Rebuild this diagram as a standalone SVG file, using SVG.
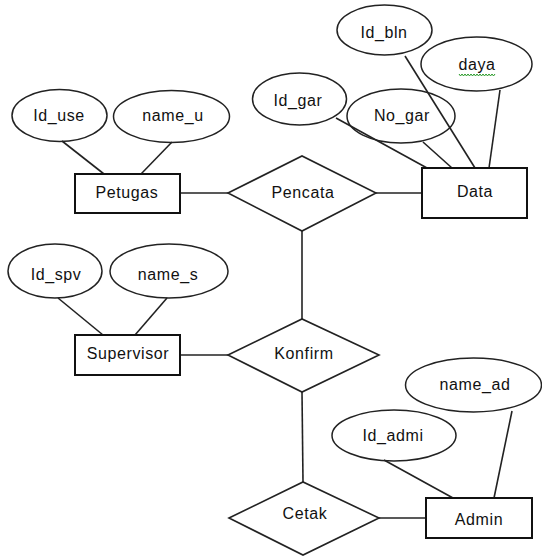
<svg xmlns="http://www.w3.org/2000/svg" width="542" height="556" viewBox="0 0 542 556">
<style>
.e{fill:none;stroke:#222;stroke-width:1.5}
.r{fill:#fff;stroke:#111;stroke-width:2}
.d{fill:#fff;stroke:#222;stroke-width:1.6}
.c line{stroke:#222;stroke-width:1.6}
text{font-family:"Liberation Sans",Arial,sans-serif;font-size:16px;fill:#111;text-anchor:middle;letter-spacing:0.6px}
</style>
<rect width="542" height="556" fill="#fff"/>
<g class="c" id="connectors">
<line x1="62" y1="141" x2="104" y2="174"/>
<line x1="172" y1="142" x2="141" y2="174"/>
<line x1="180" y1="193" x2="228" y2="193"/>
<line x1="376" y1="193" x2="422" y2="193"/>
<line x1="336" y1="118" x2="427" y2="168"/>
<line x1="423" y1="142" x2="452" y2="168"/>
<line x1="405" y1="56" x2="475" y2="168"/>
<line x1="500" y1="90" x2="489" y2="168"/>
<line x1="302" y1="231" x2="302" y2="319"/>
<line x1="58" y1="298" x2="103" y2="335"/>
<line x1="167" y1="298" x2="135" y2="335"/>
<line x1="180" y1="355" x2="228" y2="355"/>
<line x1="302" y1="392" x2="303" y2="482"/>
<line x1="379" y1="518" x2="426" y2="518"/>
<line x1="384" y1="460" x2="453" y2="498"/>
<line x1="512" y1="411" x2="494" y2="498"/>
</g>
<g id="Id_use"><ellipse class="e" cx="59.5" cy="115.5" rx="47.5" ry="26"/><text x="59" y="121">Id_use</text></g>
<g id="name_u"><ellipse class="e" cx="171.5" cy="116.5" rx="58" ry="26"/><text x="173" y="121">name_u</text></g>
<g id="Petugas"><rect class="r" x="75" y="174" width="105" height="39"/><text x="127" y="198">Petugas</text></g>
<g id="Pencata"><polygon class="d" points="228,193 302,156 376,193 302,231"/><text x="303" y="198">Pencata</text></g>
<g id="Id_bln"><ellipse class="e" cx="384.5" cy="30" rx="47.5" ry="25"/><text x="384" y="38">Id_bln</text></g>
<g id="daya"><ellipse class="e" cx="476.5" cy="64" rx="55.5" ry="27"/><text x="477" y="70">daya</text>
<path d="M459 74 l1.5 2 l1.5 -2 l1.5 2 l1.5 -2 l1.5 2 l1.5 -2 l1.5 2 l1.5 -2 l1.5 2 l1.5 -2 l1.5 2 l1.5 -2 l1.5 2 l1.5 -2 l1.5 2 l1.5 -2 l1.5 2 l1.5 -2 l1.5 2 l1.5 -2 l1.5 2 l1.5 -2 l1.5 2 l1.5 -2" fill="none" stroke="#2a9a2a" stroke-width="1"/></g>
<g id="Id_gar"><ellipse class="e" cx="299.5" cy="99" rx="47" ry="26"/><text x="298" y="106">Id_gar</text></g>
<g id="No_gar"><ellipse class="e" cx="401" cy="116" rx="54" ry="27"/><text x="402" y="121">No_gar</text></g>
<g id="Data"><rect class="r" x="422" y="168" width="105" height="50"/><text x="475" y="197">Data</text></g>
<g id="Id_spv"><ellipse class="e" cx="55" cy="271" rx="47" ry="27"/><text x="56" y="280">Id_spv</text></g>
<g id="name_s"><ellipse class="e" cx="169" cy="271" rx="59" ry="27"/><text x="168" y="280">name_s</text></g>
<g id="Supervisor"><rect class="r" x="75" y="335" width="105" height="40"/><text x="128" y="359">Supervisor</text></g>
<g id="Konfirm"><polygon class="d" points="228,355 302,319 379,355 302,392"/><text x="304" y="359">Konfirm</text></g>
<g id="name_ad"><ellipse class="e" cx="473.5" cy="385" rx="68" ry="27"/><text x="475" y="390">name_ad</text></g>
<g id="Id_admi"><ellipse class="e" cx="394" cy="435.5" rx="62" ry="25.5"/><text x="393" y="441">Id_admi</text></g>
<g id="Cetak"><polygon class="d" points="229,518 303,482 379,518 303,555"/><text x="305" y="519">Cetak</text></g>
<g id="Admin"><rect class="r" x="426" y="498" width="106" height="40"/><text x="479" y="525">Admin</text></g>
</svg>
